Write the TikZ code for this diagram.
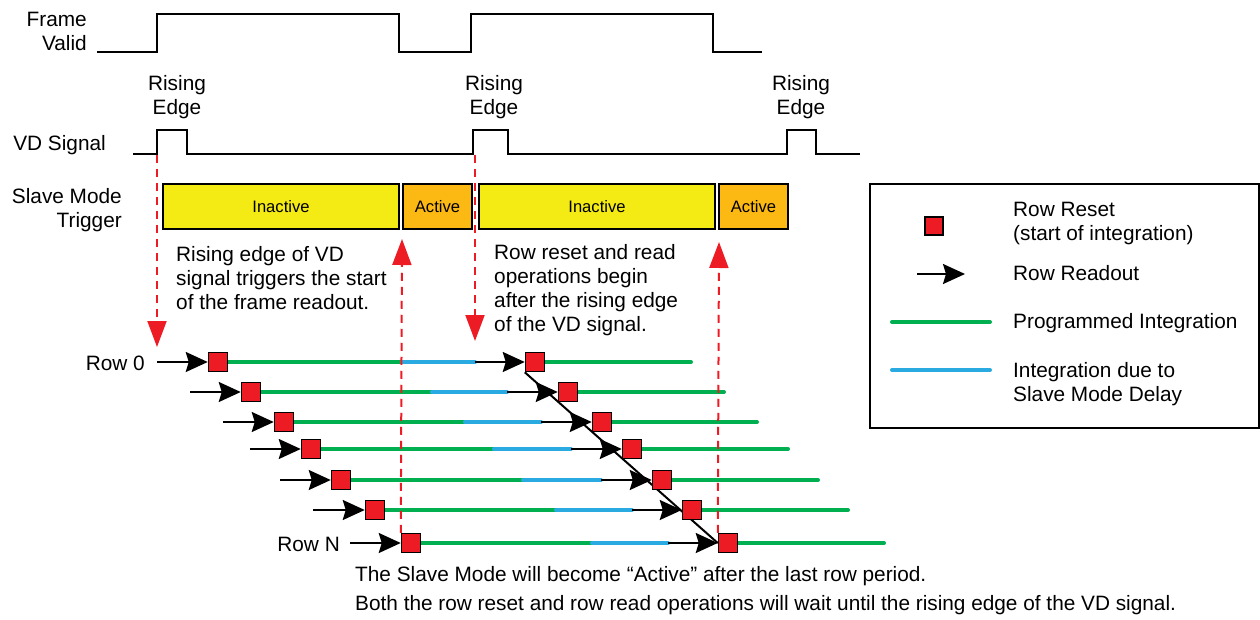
\documentclass[tikz,border=0pt]{standalone}
\usepackage{fontspec}
\setmainfont{Liberation Sans}
\usetikzlibrary{arrows.meta,backgrounds}
\definecolor{trig}{HTML}{ED1C24}
\definecolor{inact}{HTML}{F4EB14}
\definecolor{act}{HTML}{FCB813}
\definecolor{prog}{HTML}{00B050}
\definecolor{dly}{HTML}{29ABE2}

\begin{document}
\begin{tikzpicture}[x=1pt,y=-1pt,font=\fontsize{20.8}{24}\selectfont,
  lbl/.style={inner sep=0pt,align=center},
  mode/.style={draw,line width=1.5pt,minimum height=45pt,inner sep=0pt,font=\fontsize{16.6}{19}\selectfont},
  sig/.style={line width=2pt},
  rst/.style={draw,line width=1.5pt,fill=trig,minimum size=19pt,inner sep=0pt},
  rd/.style={-{Stealth[length=22pt,width=20pt,inset=3pt]},line width=2pt},
  pint/.style={draw=prog,line width=4pt,line cap=round},
  dint/.style={draw=dly,line width=4pt,line cap=round},
  vdarr/.style={-{Triangle[length=26pt,width=19pt]},draw=trig,line width=2pt,dash pattern=on 8pt off 6pt}]
\useasboundingbox (0,0) rectangle (1260,620);

% signals
\node[lbl,align=right,anchor=east] (fv) at (87,31) {Frame\\Valid};
\draw[sig] (97,52) -| (157,14) -| (399,52) -| (471,14) -| (713,52) -- (762,52);
\node[lbl] (re1) at (177,97) {Rising\\Edge};
\node[lbl] (re2) at (494,97) {Rising\\Edge};
\node[lbl] (re3) at (801,97) {Rising\\Edge};
\node[lbl,anchor=east] (vd) at (106,145) {VD Signal};
\draw[sig] (133,154) -| (157,130) -| (187,154) -- (473,154) -| (473,130) -| (508,154)
  -- (787,154) -| (787,130) -| (816,154) -- (860,154);

% slave mode trigger
\node[lbl,align=right,anchor=east] (smt) at (122,210) {Slave Mode\\Trigger};
\node[mode,fill=inact,minimum width=236pt] (m1) at (281,206.5) {Inactive};
\node[mode,fill=act,minimum width=69pt] (m2) at (437.5,206.5) {Active};
\node[mode,fill=inact,minimum width=236pt] (m3) at (597,206.5) {Inactive};
\node[mode,fill=act,minimum width=69pt] (m4) at (753.5,206.5) {Active};

\node[lbl,align=left,anchor=west] (n1) at (176,278) {Rising edge of VD\\signal triggers the start\\of the frame readout.};
\node[lbl,align=left,anchor=west] (n2) at (494,290) {Row reset and read\\operations begin\\after the rising edge\\of the VD signal.};

% rows
\foreach \i/\y/\s/\a/\g/\b/\c/\e in {0/362/157/218/402/475/535/691,1/392/190/251/432/507/568/724,
  2/422/223/284/465/541/602/757,3/449/250/311/494/571/632/788,4/480/280/341/523/601/662/818,
  5/510/313/375/556/632/692/848,6/543/350/411/592/668/728/884}{
  \node[rst] (ra\i) at (\a,\y) {};
  \node[rst] (rb\i) at (\c,\y) {};
  \coordinate (s\i) at (\s,\y);
  \coordinate (g\i) at (\g,\y);
  \coordinate (b\i) at (\b,\y);
  \coordinate (e\i) at (\e,\y);
  \begin{pgfonlayer}{background}
    \draw[pint] (ra\i.east) -- (g\i);
    \draw[dint] (g\i) -- (b\i);
    \draw[pint] (rb\i.east) -- (e\i);
  \end{pgfonlayer}
  \draw[rd] (s\i) -- (ra\i);
  \draw[rd] (b\i) -- (rb\i);
}
\begin{pgfonlayer}{background}
  \draw[line width=2pt] (rb0.south west) -- (rb6.west);
\end{pgfonlayer}
\node[lbl,anchor=east] (row0) at (145,363) {Row 0};
\node[lbl,anchor=east] (rowN) at (340,544) {Row N};

% trigger edges
\coordinate (t1) at (157,155);
\coordinate (h1) at (157,347);
\coordinate (t3) at (475,155);
\coordinate (h3) at (475,341);
\coordinate (h2) at (402,239);
\coordinate (h4) at (719,242);
\draw[vdarr] (t1) -- (h1);
\draw[vdarr] (t3) -- (h3);
\draw[vdarr] (ra6.north west) -- (h2);
\draw[vdarr] (rb6.north west) -- (h4);

% legend
\draw[line width=2pt] (870,184) rectangle (1259,428);
\node[rst,minimum size=18pt] (lrst) at (934,226) {};
\node[lbl,align=left,anchor=west] (lt1) at (1013,224) {Row Reset\\(start of integration)};
\coordinate (la1) at (917,274);
\coordinate (la2) at (965,274);
\draw[rd] (la1) -- (la2);
\node[lbl,anchor=west] (lt2) at (1013,273) {Row Readout};
\coordinate (lg1) at (892,322);
\coordinate (lg2) at (990,322);
\draw[pint] (lg1) -- (lg2);
\node[lbl,anchor=west] (lt3) at (1013,323) {Programmed Integration};
\coordinate (lb1) at (892,370);
\coordinate (lb2) at (990,370);
\draw[dint] (lb1) -- (lb2);
\node[lbl,align=left,anchor=west] (lt4) at (1013,384) {Integration due to\\Slave Mode Delay};

% notes
\node[lbl,anchor=west] (c1) at (355,576) {The Slave Mode will become “Active” after the last row period.};
\node[lbl,anchor=west] (c2) at (355,605) {Both the row reset and row read operations will wait until the rising edge of the VD signal.};
\end{tikzpicture}
\end{document}
